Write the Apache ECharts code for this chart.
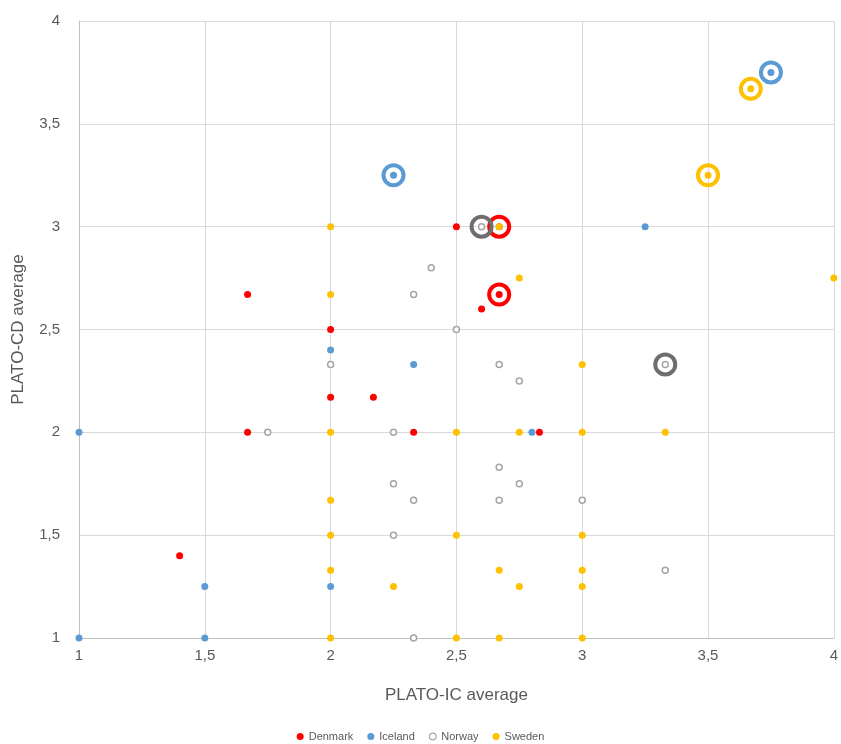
<!DOCTYPE html>
<html>
<head>
<meta charset="utf-8">
<script src="https://cdn.jsdelivr.net/npm/echarts@6/dist/echarts.min.js"></script>
<style>
  html, body { margin: 0; padding: 0; background: #fff; }
  #main { width: 841px; height: 744px; }
</style>
</head>
<body>
<div id="main"></div>
<script>
// small points, [PLATO-IC, PLATO-CD]
var denmark = [[2.5,3],[2.67,3],[1.67,2.67],[2.67,2.67],[2.6,2.6],[2,2.5],[2,2.17],[2.17,2.17],
    [1.67,2],[2.33,2],[2.83,2],[1.4,1.4]];
var iceland = [[2.25,3.25],[3.75,3.75],[3.25,3],[2,2.4],[2.33,2.33],[1,2],[2.8,2],[1.5,1.25],
    [2,1.25],[1,1],[1.5,1]];
var norway = [[2.6,3],[2.4,2.8],[2.33,2.67],[2.5,2.5],[2,2.33],[2.67,2.33],[3.33,2.33],[2.75,2.25],
    [1.75,2],[2.25,2],[2.67,1.83],[2.25,1.75],[2.75,1.75],[2.33,1.67],[2.67,1.67],[3,1.67],
    [2.25,1.5],[3.33,1.33],[2.33,1]];
var sweden = [[3.5,3.25],[3.67,3.67],[2,3],[2.67,3],[2,2.67],[2.75,2.75],[4,2.75],[3,2.33],
    [2,2],[2.5,2],[2.75,2],[3,2],[3.33,2],[2,1.67],[2,1.5],[2.5,1.5],[3,1.5],[2,1.33],
    [2.67,1.33],[3,1.33],[2.25,1.25],[2.75,1.25],[3,1.25],[2,1],[2.5,1],[2.67,1],[3,1]];
// highlighted (ringed) points
var denmarkRing = [[2.67,3],[2.67,2.67]];
var icelandRing = [[2.25,3.25],[3.75,3.75]];
var norwayRing = [[2.6,3],[3.33,2.33]];
var swedenRing = [[3.5,3.25],[3.67,3.67]];

var countries = ['Denmark', 'Iceland', 'Norway', 'Sweden'];
var colors = ['#ff0000', '#5b9bd5', '#a5a5a5', '#ffc000'];
var ringColors = ['#ff0000', '#5b9bd5', '#6e6e6e', '#ffc000'];
var points = [denmark, iceland, norway, sweden];
var rings = [denmarkRing, icelandRing, norwayRing, swedenRing];

var comma = function (v) { return String(v).replace('.', ','); };

var series = [];
// rings first so the small dots sit on top
rings.forEach(function (d, i) {
    series.push({
        name: countries[i] + ' ring',
        type: 'scatter',
        data: d,
        symbol: 'circle',
        symbolSize: 20,
        z: 2,
        itemStyle: { color: 'rgba(255,255,255,0)', borderColor: ringColors[i], borderWidth: 4, opacity: 1 },
        emphasis: { disabled: true }
    });
});
points.forEach(function (d, i) {
    var hollow = countries[i] === 'Norway';
    series.push({
        name: countries[i],
        type: 'scatter',
        data: d,
        symbol: 'circle',
        symbolSize: hollow ? 6 : 7,
        z: 3,
        itemStyle: hollow
            ? { color: '#ffffff', borderColor: colors[i], borderWidth: 1.5, opacity: 1 }
            : { color: colors[i], borderWidth: 0, opacity: 1 }
    });
});

var chart = echarts.init(document.getElementById('main'));
chart.setOption({
    animation: false,
    grid: { left: 79, right: 5, top: 21, bottom: 106 },
    legend: {
        data: [
            { name: 'Denmark', icon: 'circle', itemStyle: { color: '#ff0000' } },
            { name: 'Iceland', icon: 'circle', itemStyle: { color: '#5b9bd5' } },
            { name: 'Norway', icon: 'circle', itemStyle: { color: '#fff', borderColor: '#8c8c8c', borderWidth: 1 } },
            { name: 'Sweden', icon: 'circle', itemStyle: { color: '#ffc000' } }
        ],
        top: 726,
        left: 'center',
        itemWidth: 7,
        itemHeight: 7,
        itemGap: 14,
        textStyle: { color: '#595959', fontSize: 11, fontFamily: 'Liberation Sans' }
    },
    xAxis: {
        type: 'value',
        min: 1, max: 4, interval: 0.5,
        name: 'PLATO-IC average',
        nameLocation: 'middle',
        nameGap: 49,
        nameTextStyle: { color: '#595959', fontSize: 17, fontFamily: 'Liberation Sans' },
        axisLine: { show: true, lineStyle: { color: '#bfbfbf' } },
        axisTick: { show: false },
        axisLabel: { color: '#595959', fontSize: 15, margin: 10, fontFamily: 'Liberation Sans', formatter: comma },
        splitLine: { show: true, lineStyle: { color: '#d9d9d9' } }
    },
    yAxis: {
        type: 'value',
        min: 1, max: 4, interval: 0.5,
        name: 'PLATO-CD average',
        nameLocation: 'middle',
        nameGap: 52,
        nameTextStyle: { color: '#595959', fontSize: 17, fontFamily: 'Liberation Sans' },
        axisLine: { show: true, lineStyle: { color: '#bfbfbf' } },
        axisTick: { show: false },
        axisLabel: { color: '#595959', fontSize: 15, margin: 19, fontFamily: 'Liberation Sans', formatter: comma },
        splitLine: { show: true, lineStyle: { color: '#d9d9d9' } }
    },
    series: series
});
</script>
</body>
</html>
